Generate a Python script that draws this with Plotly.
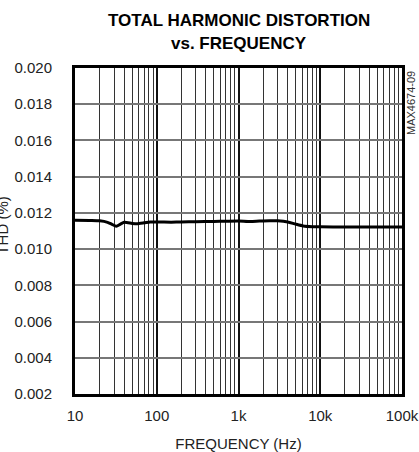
import numpy as np
import plotly.graph_objects as go

# Data
freq_hz = [10, 15, 20, 25, 28, 32, 36, 40, 50, 57, 70, 83, 100, 150, 200, 300, 500, 700,
           1000, 1400, 1800, 2400, 3000, 4000, 5000, 6200, 8000, 10000, 20000, 50000, 100000]
thd_pct = [0.01160, 0.01158, 0.01156, 0.01148, 0.01138, 0.01126, 0.01138, 0.01148, 0.01142, 0.01140,
           0.01145, 0.01150, 0.01150, 0.01149, 0.01150, 0.01151, 0.01153, 0.01154,
           0.01155, 0.01152, 0.01155, 0.01157, 0.01156, 0.01150, 0.01138, 0.01128, 0.01124, 0.01123,
           0.01122, 0.01122, 0.01122]

x_tickvals = [10, 100, 1000, 10000, 100000]
x_ticktext = ["10", "100", "1k", "10k", "100k"]
y_tickvals = [0.002, 0.004, 0.006, 0.008, 0.010, 0.012, 0.014, 0.016, 0.018, 0.020]
y_ticktext = ["0.002", "0.004", "0.006", "0.008", "0.010", "0.012", "0.014", "0.016", "0.018", "0.020"]
minor_x = [m * 10 ** d for d in range(1, 5) for m in range(2, 10)]

FONT = "Liberation Sans Narrow, Arial Narrow, Liberation Sans, Arial, sans-serif"

fig = go.Figure()
fig.add_trace(go.Scatter(
    x=freq_hz, y=thd_pct, mode="lines",
    line=dict(color="black", width=3, shape="spline", smoothing=0.6),
    showlegend=False, hoverinfo="skip",
))

fig.update_layout(
    width=419, height=452,
    margin=dict(l=75, r=17, t=68, b=58),
    paper_bgcolor="white", plot_bgcolor="white",
    font=dict(family=FONT, size=15, color="#222"),
    xaxis=dict(
        type="log", range=[1, 5], automargin=False,
        tickvals=x_tickvals, ticktext=x_ticktext,
        ticks="", showgrid=True, gridcolor="#111", gridwidth=1.5,
        minor=dict(tickvals=minor_x, showgrid=True, gridcolor="#333", gridwidth=1, ticks=""),
        showline=True, linecolor="black", linewidth=3, mirror=True,
        zeroline=False, ticklabelstandoff=6,
        title=dict(text="FREQUENCY (Hz)", font=dict(size=15), standoff=17),
        tickfont=dict(size=15),
    ),
    yaxis=dict(
        range=[0.002, 0.020], automargin=False,
        tickvals=y_tickvals, ticktext=y_ticktext,
        ticks="", showgrid=True, gridcolor="#777", gridwidth=1.5,
        showline=True, linecolor="black", linewidth=3, mirror=True,
        zeroline=False, ticklabelstandoff=17,
        tickfont=dict(size=15),
    ),
    annotations=[
        dict(text="<b>TOTAL HARMONIC DISTORTION</b>", xref="paper", yref="paper",
             x=0.5, y=1.147, xanchor="center", yanchor="middle", showarrow=False,
             font=dict(family=FONT, size=17, color="black")),
        dict(text="<b>vs. FREQUENCY</b>", xref="paper", yref="paper",
             x=0.5, y=1.074, xanchor="center", yanchor="middle", showarrow=False,
             font=dict(family=FONT, size=17, color="black")),
        dict(text="THD (%)", xref="paper", yref="paper", x=-0.222, y=0.518,
             xanchor="center", yanchor="middle", textangle=-90, showarrow=False,
             font=dict(family=FONT, size=15, color="#222")),
        dict(text="MAX4674-09", xref="paper", yref="paper", x=1.028, y=0.893,
             xanchor="center", yanchor="middle", textangle=-90, showarrow=False,
             font=dict(family=FONT, size=11, color="#333")),
    ],
)

fig.write_html("out.html", config={"displayModeBar": False},
               post_script="document.body.style.margin='0';")
